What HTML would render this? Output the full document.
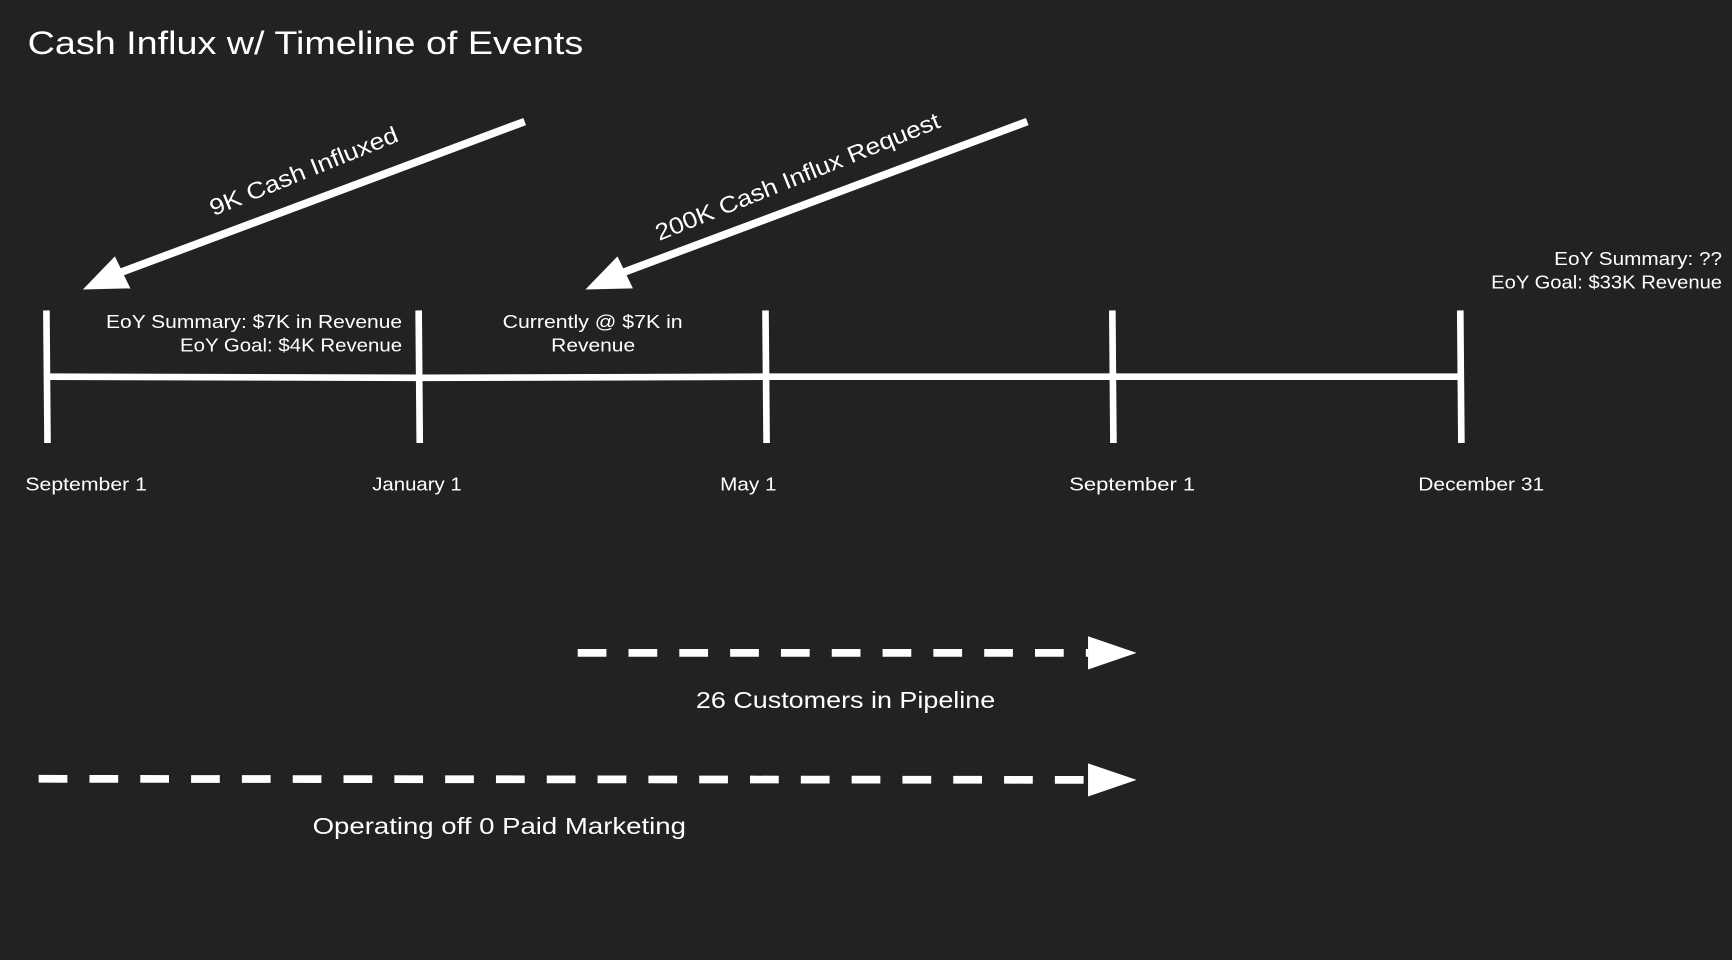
<!DOCTYPE html>
<html><head><meta charset="utf-8"><style>
html,body{margin:0;padding:0;background:#222222;}
svg{display:block;}
text{font-family:"Liberation Sans",sans-serif;fill:#fff;}
</style></head><body>
<svg width="1732" height="960" viewBox="0 0 1568 869" xmlns="http://www.w3.org/2000/svg">
<rect width="1568" height="869" fill="#222222"/>
<text x="25" y="49" font-size="29" textLength="503" lengthAdjust="spacingAndGlyphs">Cash Influx w/ Timeline of Events</text>

<polyline points="42,341 380,342 693,341 1007,341 1322,341" fill="none" stroke="#fff" stroke-width="6"/>
<g stroke="#fff" stroke-width="6">
<line x1="42" y1="281" x2="43" y2="401"/>
<line x1="379" y1="281" x2="380" y2="401"/>
<line x1="693" y1="281" x2="694" y2="401"/>
<line x1="1007" y1="281" x2="1008" y2="401"/>
<line x1="1322" y1="281" x2="1323" y2="401"/>
</g>
<g font-size="17">
<text x="23" y="444" textLength="110" lengthAdjust="spacingAndGlyphs">September 1</text>
<text x="337" y="444" textLength="81" lengthAdjust="spacingAndGlyphs">January 1</text>
<text x="652" y="444" textLength="51" lengthAdjust="spacingAndGlyphs">May  1</text>
<text x="968" y="444" textLength="114" lengthAdjust="spacingAndGlyphs">September  1</text>
<text x="1284" y="444" textLength="114" lengthAdjust="spacingAndGlyphs">December 31</text>
<text x="96" y="297" textLength="268" lengthAdjust="spacingAndGlyphs">EoY Summary: $7K in Revenue</text>
<text x="163" y="318" textLength="201" lengthAdjust="spacingAndGlyphs">EoY Goal: $4K Revenue</text>
<text x="455" y="297" textLength="163" lengthAdjust="spacingAndGlyphs">Currently @ $7K in</text>
<text x="499" y="318" textLength="76" lengthAdjust="spacingAndGlyphs">Revenue</text>
<text x="1407" y="240" textLength="152" lengthAdjust="spacingAndGlyphs">EoY Summary: ??</text>
<text x="1350" y="261" textLength="209" lengthAdjust="spacingAndGlyphs">EoY Goal: $33K Revenue</text>
</g>

<line x1="475" y1="110" x2="100" y2="250" stroke="#fff" stroke-width="7"/>
<polygon points="75,262 118,261 104,232" fill="#fff"/>
<text x="275" y="162" font-size="21" text-anchor="middle" textLength="182" lengthAdjust="spacingAndGlyphs" transform="rotate(-22 275 155)">9K Cash Influxed</text>
<line x1="930" y1="110" x2="555" y2="250" stroke="#fff" stroke-width="7"/>
<polygon points="530,262 573,261 559,232" fill="#fff"/>
<text x="722" y="167" font-size="21" text-anchor="middle" textLength="276" lengthAdjust="spacingAndGlyphs" transform="rotate(-22 722 160)">200K Cash Influx Request</text>

<line x1="523" y1="591" x2="985" y2="591" stroke="#fff" stroke-width="7" stroke-dasharray="26,20"/>
<polygon points="985,576 1029,591 985,606" fill="#fff"/>
<text x="630" y="641" font-size="21" textLength="271" lengthAdjust="spacingAndGlyphs">26 Customers in Pipeline</text>
<line x1="35" y1="705" x2="985" y2="706" stroke="#fff" stroke-width="7" stroke-dasharray="26,20"/>
<polygon points="985,691 1029,706 985,721" fill="#fff"/>
<text x="283" y="755" font-size="21" textLength="338" lengthAdjust="spacingAndGlyphs">Operating off 0 Paid Marketing</text>
</svg>
</body></html>
